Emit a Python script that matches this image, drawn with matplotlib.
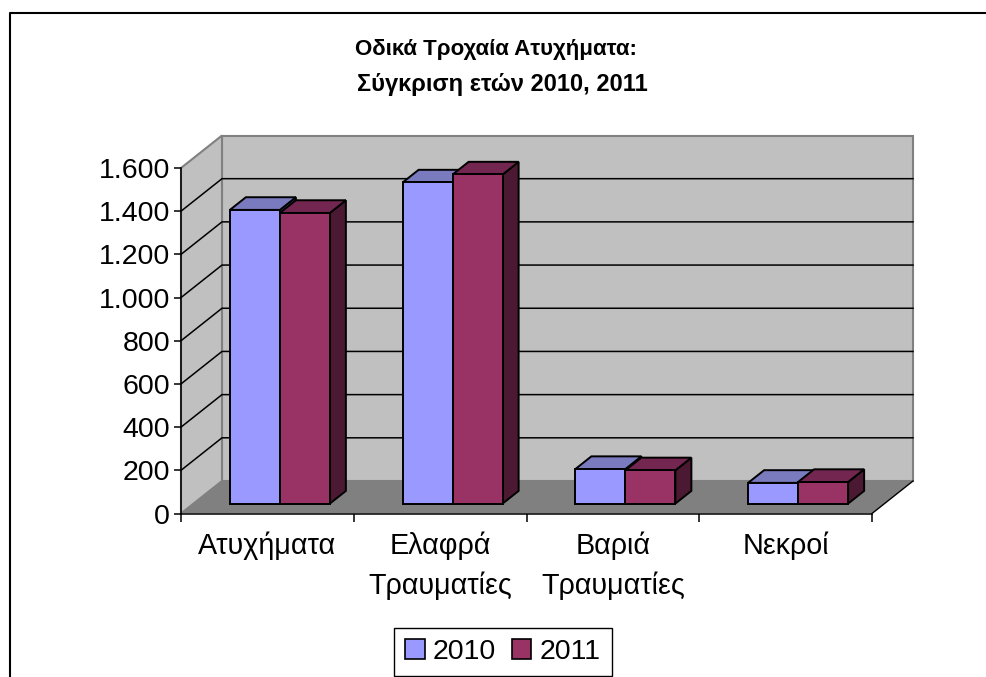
import matplotlib
matplotlib.use("Agg")
import matplotlib.pyplot as plt
from matplotlib.patches import Polygon, Rectangle
from matplotlib.lines import Line2D

categories = ["Ατυχήματα", "Ελαφρά\nΤραυματίες", "Βαριά\nΤραυματίες", "Νεκροί"]
values_2010 = [1360, 1487, 160, 96]
values_2011 = [1346, 1524, 154, 100]
yticks = [0, 200, 400, 600, 800, 1000, 1200, 1400, 1600]
ytick_labels = ["0", "200", "400", "600", "800", "1.000", "1.200", "1.400", "1.600"]

W, H = 987, 677
plt.rcParams["font.family"] = ["Liberation Sans", "DejaVu Sans"]

fig = plt.figure(figsize=(W / 100, H / 100), dpi=100)
# chart frame, only the top and left edges are inside the picture
fig.add_artist(Line2D([9.5 / W, 9.5 / W, 1], [0, 1 - 13 / H, 1 - 13 / H], color="black", lw=1.5))

# axes = front plane of the 3d box
ax = fig.add_axes([181 / W, 1 - 513.5 / H, 691 / W, 345.5 / H])
ax.set_xlim(0, 4)
ax.set_ylim(0, 1600)
ax.patch.set_visible(False)

# depth of the box in data units
dx = 41 * 4 / 691
dy = 32.5 * 1600 / 345.5
wall = "#c0c0c0"
edge = "#808080"


def poly(points, fc, ec="black", lw=1.3, z=1):
    ax.add_patch(Polygon(points, closed=True, fc=fc, ec=ec, lw=lw, zorder=z, clip_on=False))


poly([(0, 0), (dx, dy), (4 + dx, dy), (4, 0)], "#808080", ec="none", z=1)
poly([(dx, dy), (dx, 1600 + dy), (4 + dx, 1600 + dy), (4 + dx, dy)], wall, ec=edge, lw=1.5, z=1)
poly([(0, 0), (dx, dy), (dx, 1600 + dy), (0, 1600)], wall, ec=edge, lw=1.5, z=1)
ax.plot([4, 4 + dx], [0, dy], color="black", lw=1, zorder=2, clip_on=False)

for t in yticks[1:-1]:
    ax.plot([0, dx, 4 + dx], [t, t + dy, t + dy], color="black", lw=1.1, zorder=2, clip_on=False)

# bars
width = 50 * 4 / 691
near = 0.305
far = 0.695
colors = [("#9999ff", "#7a7abf", "#4d4d80"), ("#993366", "#732650", "#4c1933")]

for i, vals in enumerate([values_2010, values_2011]):
    for j, v in enumerate(vals):
        x0 = j + 0.5 - width + i * width + near * dx
        x1 = x0 + width
        y0 = near * dy
        y1 = y0 + v
        ox = (far - near) * dx
        oy = (far - near) * dy
        z = 3 + i
        poly([(x1, y0), (x1 + ox, y0 + oy), (x1 + ox, y1 + oy), (x1, y1)], colors[i][2], lw=1.4, z=z)
        poly([(x0, y1), (x0 + ox, y1 + oy), (x1 + ox, y1 + oy), (x1, y1)], colors[i][1], lw=1.4, z=z)
        ax.bar(x0, v, width, bottom=y0, align="edge", color=colors[i][0], edgecolor="black",
               linewidth=1.4, zorder=z, clip_on=False)

for s in ["top", "right"]:
    ax.spines[s].set_visible(False)
for s in ["left", "bottom"]:
    ax.spines[s].set_linewidth(1.1)
    ax.spines[s].set_zorder(6)

ax.set_yticks(yticks)
ax.set_yticklabels(ytick_labels, fontsize=20.5)
ax.set_xticks([0, 1, 2, 3, 4])
ax.set_xticklabels([])
ax.tick_params(axis="y", length=5, width=1.1, pad=3)
ax.tick_params(axis="x", length=6, width=1.1)

for j, c in enumerate(categories):
    ax.annotate(c, (j + 0.5, 0), xytext=(0, -13), xycoords="data", textcoords="offset points",
                ha="center", va="top", fontsize=20.7, linespacing=1.5, clip_on=False)

fig.text(496 / W, 1 - 49 / H, "Οδικά Τροχαία Ατυχήματα:", fontsize=16, fontweight="bold", ha="center", va="center")
fig.text(502 / W, 1 - 84 / H, "Σύγκριση ετών 2010, 2011", fontsize=17, fontweight="bold", ha="center", va="center")

# legend
handles = [Rectangle((0, 0), 1, 1, fc=colors[0][0], ec="black", lw=1.2),
           Rectangle((0, 0), 1, 1, fc=colors[1][0], ec="black", lw=1.2)]
leg = fig.legend(handles, ["2010", "2011"], ncol=2, loc="center", bbox_to_anchor=(503 / W, 1 - 652 / H),
                 fontsize=20.5, frameon=True, fancybox=False, edgecolor="black", framealpha=1,
                 handlelength=0.67, handleheight=0.67, handletextpad=0.3, columnspacing=0.55,
                 borderpad=0.4, borderaxespad=0)
leg.get_frame().set_linewidth(1)

fig.savefig("out.png", dpi=100)
